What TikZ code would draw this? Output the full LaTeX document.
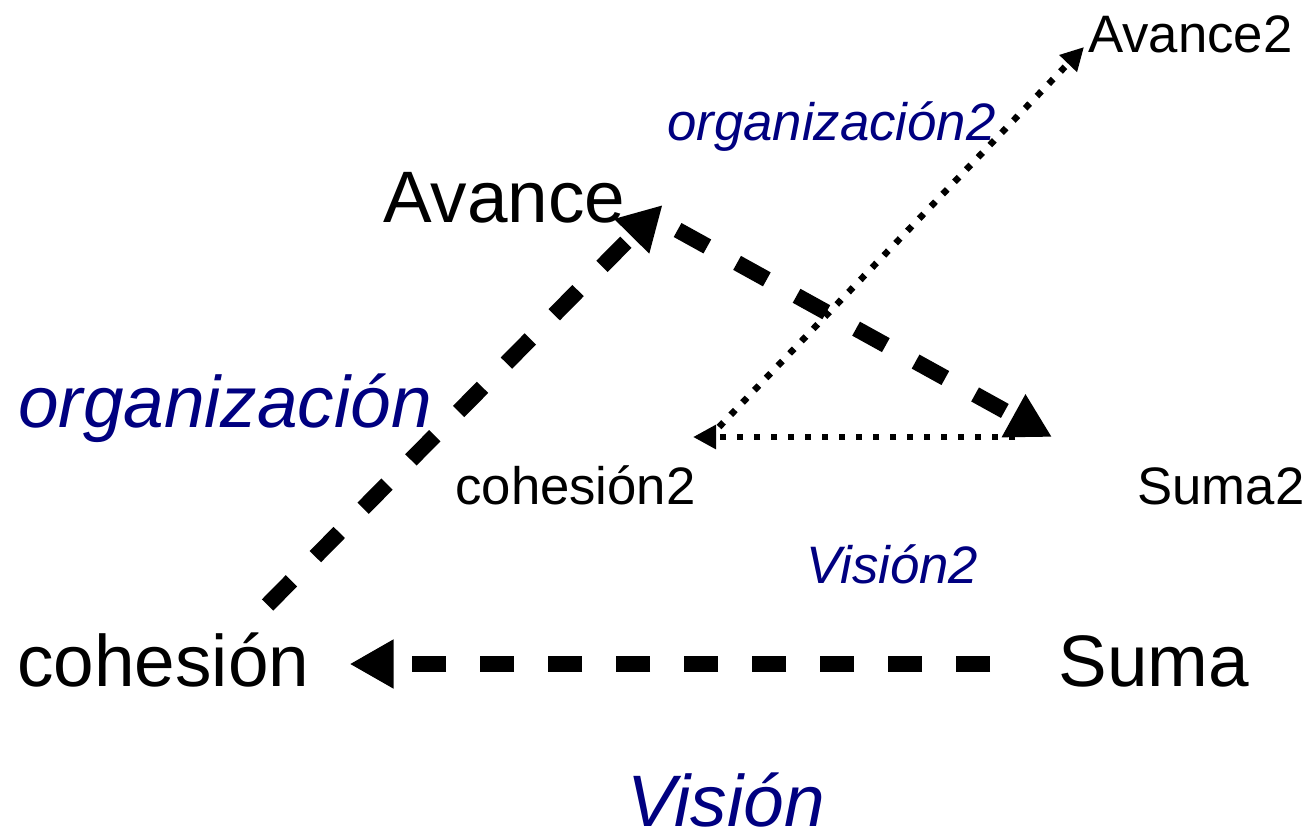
\documentclass[tikz,border=0pt]{standalone}
\usepackage{fontspec}
\setmainfont{Liberation Sans}
\usepackage{xcolor}
\usepackage{tikz}
\usetikzlibrary{arrows.meta}
\definecolor{navy}{RGB}{0,0,128}
\colorlet{lblcolor}{navy}
\newcommand\bigsize{\fontsize{41.5}{48}\selectfont}
\newcommand\smallsize{\fontsize{30}{36}\selectfont}
\tikzstyle{word}=[inner sep=0pt,anchor=base west]
\tikzstyle{bigword}=[word,font=\bigsize]
\tikzstyle{smallword}=[word,font=\smallsize]
\tikzstyle{biglbl}=[word,text=lblcolor,font=\bigsize\itshape]
\tikzstyle{smalllbl}=[word,text=lblcolor,font=\smallsize\itshape]
\tikzstyle{flow}=[line width=0.32cm,dash pattern=on 0.68cm off 0.68cm,-{Triangle[length=0.88cm,width=0.92cm]}]
\tikzstyle{flowdot}=[line width=0.13cm,dash pattern=on 0.13cm off 0.21cm,-{Triangle[length=0.46cm,width=0.46cm]}]

\begin{document}
\begin{tikzpicture}[x=0.02cm,y=-0.02cm]
	\useasboundingbox (0,0) rectangle (1311,835);
	\node[bigword]   (avance)    at (383,222)  {Avance};
	\node[bigword]   (cohesion)  at (17,686)   {cohesión};
	\node[bigword]   (suma)      at (1058,686) {Suma};
	\node[smallword] (avance2)   at (1088,52)  {Avance2};
	\node[smallword] (cohesion2) at (455,504)  {cohesión2};
	\node[smallword] (suma2)     at (1137,504) {Suma2};
	% labels
	\node[biglbl]   (org)     at (18,427)  {organización};
	\node[biglbl]   (vision)  at (627,826) {Visión};
	\node[smalllbl] (org2)    at (667,140) {organización2};
	\node[smalllbl] (vision2) at (806,583) {Visión2};
	% big triangle
	\draw[flow] ([shift={(-42,-81)}]cohesion.base east) -- ([shift={(37,-17)}]avance.base east);
	\draw[flow] ([shift={(52,8)}]avance.base east) -- ([shift={(-85,-67)}]suma2.base west);
	\draw[flow] ([shift={(-68,-22)}]suma.base west) -- ([shift={(40,-22)}]cohesion.base east);
	% small triangle
	\draw[flowdot] ([shift={(-122,-67)}]suma2.base west) -- ([shift={(-3,-67)}]cohesion2.base east);
	\draw[flowdot] ([shift={(23,-77)}]cohesion2.base east) -- ([shift={(-4,-5)}]avance2.base west);
\end{tikzpicture}
\end{document}
